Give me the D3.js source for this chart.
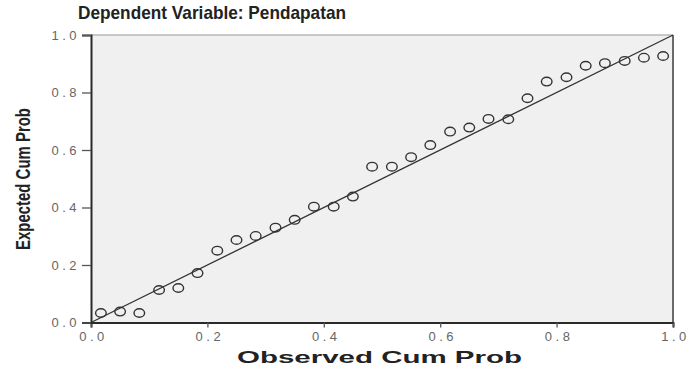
<!DOCTYPE html>
<html><head><meta charset="utf-8">
<script src="https://cdn.jsdelivr.net/npm/d3@7"></script>
<style>body{margin:0;background:#fff}svg{display:block}</style>
</head><body><svg id="c" width="692" height="369"></svg>
<script>
const titleText = "Dependent Variable: Pendapatan";
const xTitle = "Observed Cum Prob";
const yTitle = "Expected Cum Prob";
const tickValues = [0, 0.2, 0.4, 0.6, 0.8, 1.0];
const observed = [0.017,0.050,0.083,0.117,0.150,0.183,0.217,0.250,0.283,0.317,0.350,0.383,0.417,0.450,0.483,0.517,0.550,0.583,0.617,0.650,0.683,0.717,0.750,0.783,0.817,0.850,0.883,0.917,0.950,0.983];
const expected = [0.033,0.038,0.033,0.113,0.120,0.172,0.250,0.287,0.301,0.330,0.357,0.403,0.403,0.438,0.542,0.542,0.575,0.617,0.664,0.678,0.708,0.707,0.780,0.838,0.853,0.893,0.902,0.910,0.921,0.927];

const svg = d3.select("#c");
const L=91, R=673, T=35, B=322.5;
const x = d3.scaleLinear().domain([0,1]).range([L,R]);
const y = d3.scaleLinear().domain([0,1]).range([B,T]);

svg.append("rect").attr("x",L).attr("y",T).attr("width",R-L).attr("height",B-T).attr("fill","#f0f0f0");

svg.append("line").attr("x1",L).attr("x2",R).attr("y1",T).attr("y2",T).attr("stroke","#b8b8b8").attr("stroke-width",1.5);
svg.append("line").attr("x1",R).attr("x2",R).attr("y1",T).attr("y2",B).attr("stroke","#6a6a6a").attr("stroke-width",2);

const fmt = d => d.toFixed(1);
const xAxis = svg.append("g").attr("transform",`translate(0,${B})`)
  .call(d3.axisBottom(x).tickValues(tickValues).tickFormat(fmt).tickSize(5).tickPadding(4));
const yAxis = svg.append("g").attr("transform",`translate(${L},0)`)
  .call(d3.axisLeft(y).tickValues(tickValues).tickFormat(fmt).tickSize(9).tickPadding(2));
[xAxis,yAxis].forEach(a=>{
  a.select(".domain").attr("stroke","#2a2a2a").attr("stroke-width",2);
  a.selectAll(".tick line").attr("stroke","#555").attr("stroke-width",1.3);
  a.selectAll(".tick text").attr("fill","#666").attr("font-family","Liberation Sans, Arial, sans-serif")
    .attr("font-size",13).attr("letter-spacing","3.5px");
});
xAxis.selectAll(".tick text").attr("dx","2px");

svg.append("line").attr("x1",x(0)).attr("y1",y(0)).attr("x2",x(1)).attr("y2",y(1))
  .attr("stroke","#333").attr("stroke-width",1.3);

svg.append("g").selectAll("ellipse").data(observed).join("ellipse")
  .attr("cx",(d)=>x(d)).attr("cy",(d,i)=>y(expected[i]))
  .attr("rx",5.3).attr("ry",4.3).attr("fill","none").attr("stroke","#333").attr("stroke-width",1.4);

svg.append("text").attr("x",78).attr("y",19).text(titleText)
  .attr("font-family","Liberation Sans, Arial, sans-serif").attr("font-weight","bold").attr("font-size",19)
  .attr("fill","#222").attr("textLength",268).attr("lengthAdjust","spacingAndGlyphs");
svg.append("text").attr("x",237).attr("y",363).text(xTitle)
  .attr("font-family","Liberation Sans, Arial, sans-serif").attr("font-weight","bold").attr("font-size",17)
  .attr("fill","#222").attr("textLength",285).attr("lengthAdjust","spacingAndGlyphs");
svg.append("text").attr("transform","translate(30,179) rotate(-90)").attr("text-anchor","middle").text(yTitle)
  .attr("font-family","Liberation Sans Narrow, Liberation Sans, Arial, sans-serif").attr("font-weight","bold").attr("font-size",20)
  .attr("fill","#222").attr("textLength",142).attr("lengthAdjust","spacingAndGlyphs");
</script></body></html>
